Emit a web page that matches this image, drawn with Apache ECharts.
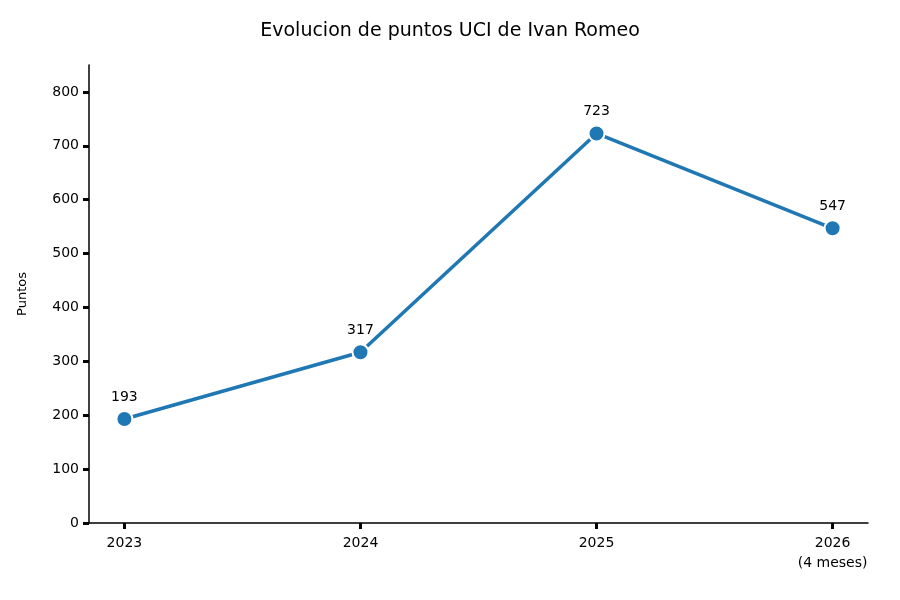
<!DOCTYPE html>
<html><head><meta charset="utf-8">
<script src="https://cdn.jsdelivr.net/npm/echarts@6/dist/echarts.min.js"></script>
<style>html,body{margin:0;padding:0;background:#fff}#c{width:900px;height:600px}</style>
</head><body><div id="c"></div>
<script>
const categories = ['2023', '2024', '2025', '2026\n(4 meses)'];
const points = [193, 317, 723, 547];
const yTicks = [0, 100, 200, 300, 400, 500, 600, 700, 800];

const chart = echarts.init(document.getElementById('c'));
const F = 'DejaVu Sans';
chart.setOption({
  animation: false,
  title: { text: 'Evolucion de puntos UCI de Ivan Romeo', left: 'center', top: 17,
    textStyle: { fontFamily: F, fontSize: 19, fontWeight: 'normal', color: '#000' } },
  grid: { left: 89, right: 32, top: 65, bottom: 77 },
  xAxis: {
    type: 'value', min: -0.15, max: 3.15, interval: 1,
    axisLine: { show: true, onZero: false, lineStyle: { color: '#000', width: 1.5 } },
    axisTick: { show: true, customValues: [0, 1, 2, 3], length: 6, lineStyle: { color: '#000', width: 3 } },
    axisLabel: { customValues: [0, 1, 2, 3], formatter: v => categories[Math.round(v)] || '',
      fontFamily: F, fontSize: 14, color: '#000', margin: 10, lineHeight: 20 },
    splitLine: { show: false }
  },
  yAxis: {
    type: 'value', min: 0, max: 850,
    name: 'Puntos', nameLocation: 'middle', nameGap: 60,
    nameTextStyle: { fontFamily: F, fontSize: 13, color: '#000' },
    axisLine: { show: true, onZero: false, lineStyle: { color: '#000', width: 1.5 } },
    axisTick: { show: true, customValues: yTicks, length: 6, lineStyle: { color: '#000', width: 3 } },
    axisLabel: { customValues: yTicks, fontFamily: F, fontSize: 14, color: '#000', margin: 10 },
    splitLine: { show: false }
  },
  series: [{
    type: 'line', smooth: false,
    data: points.map((v, i) => [i, v]),
    symbol: 'circle', symbolSize: 16,
    lineStyle: { color: '#1f77b4', width: 3.5 },
    itemStyle: { color: '#1f77b4', borderColor: '#fff', borderWidth: 2 },
    label: { show: true, position: 'top', distance: 6, formatter: p => p.value[1],
      fontFamily: F, fontSize: 14, color: '#000' }
  }]
});
</script></body></html>
